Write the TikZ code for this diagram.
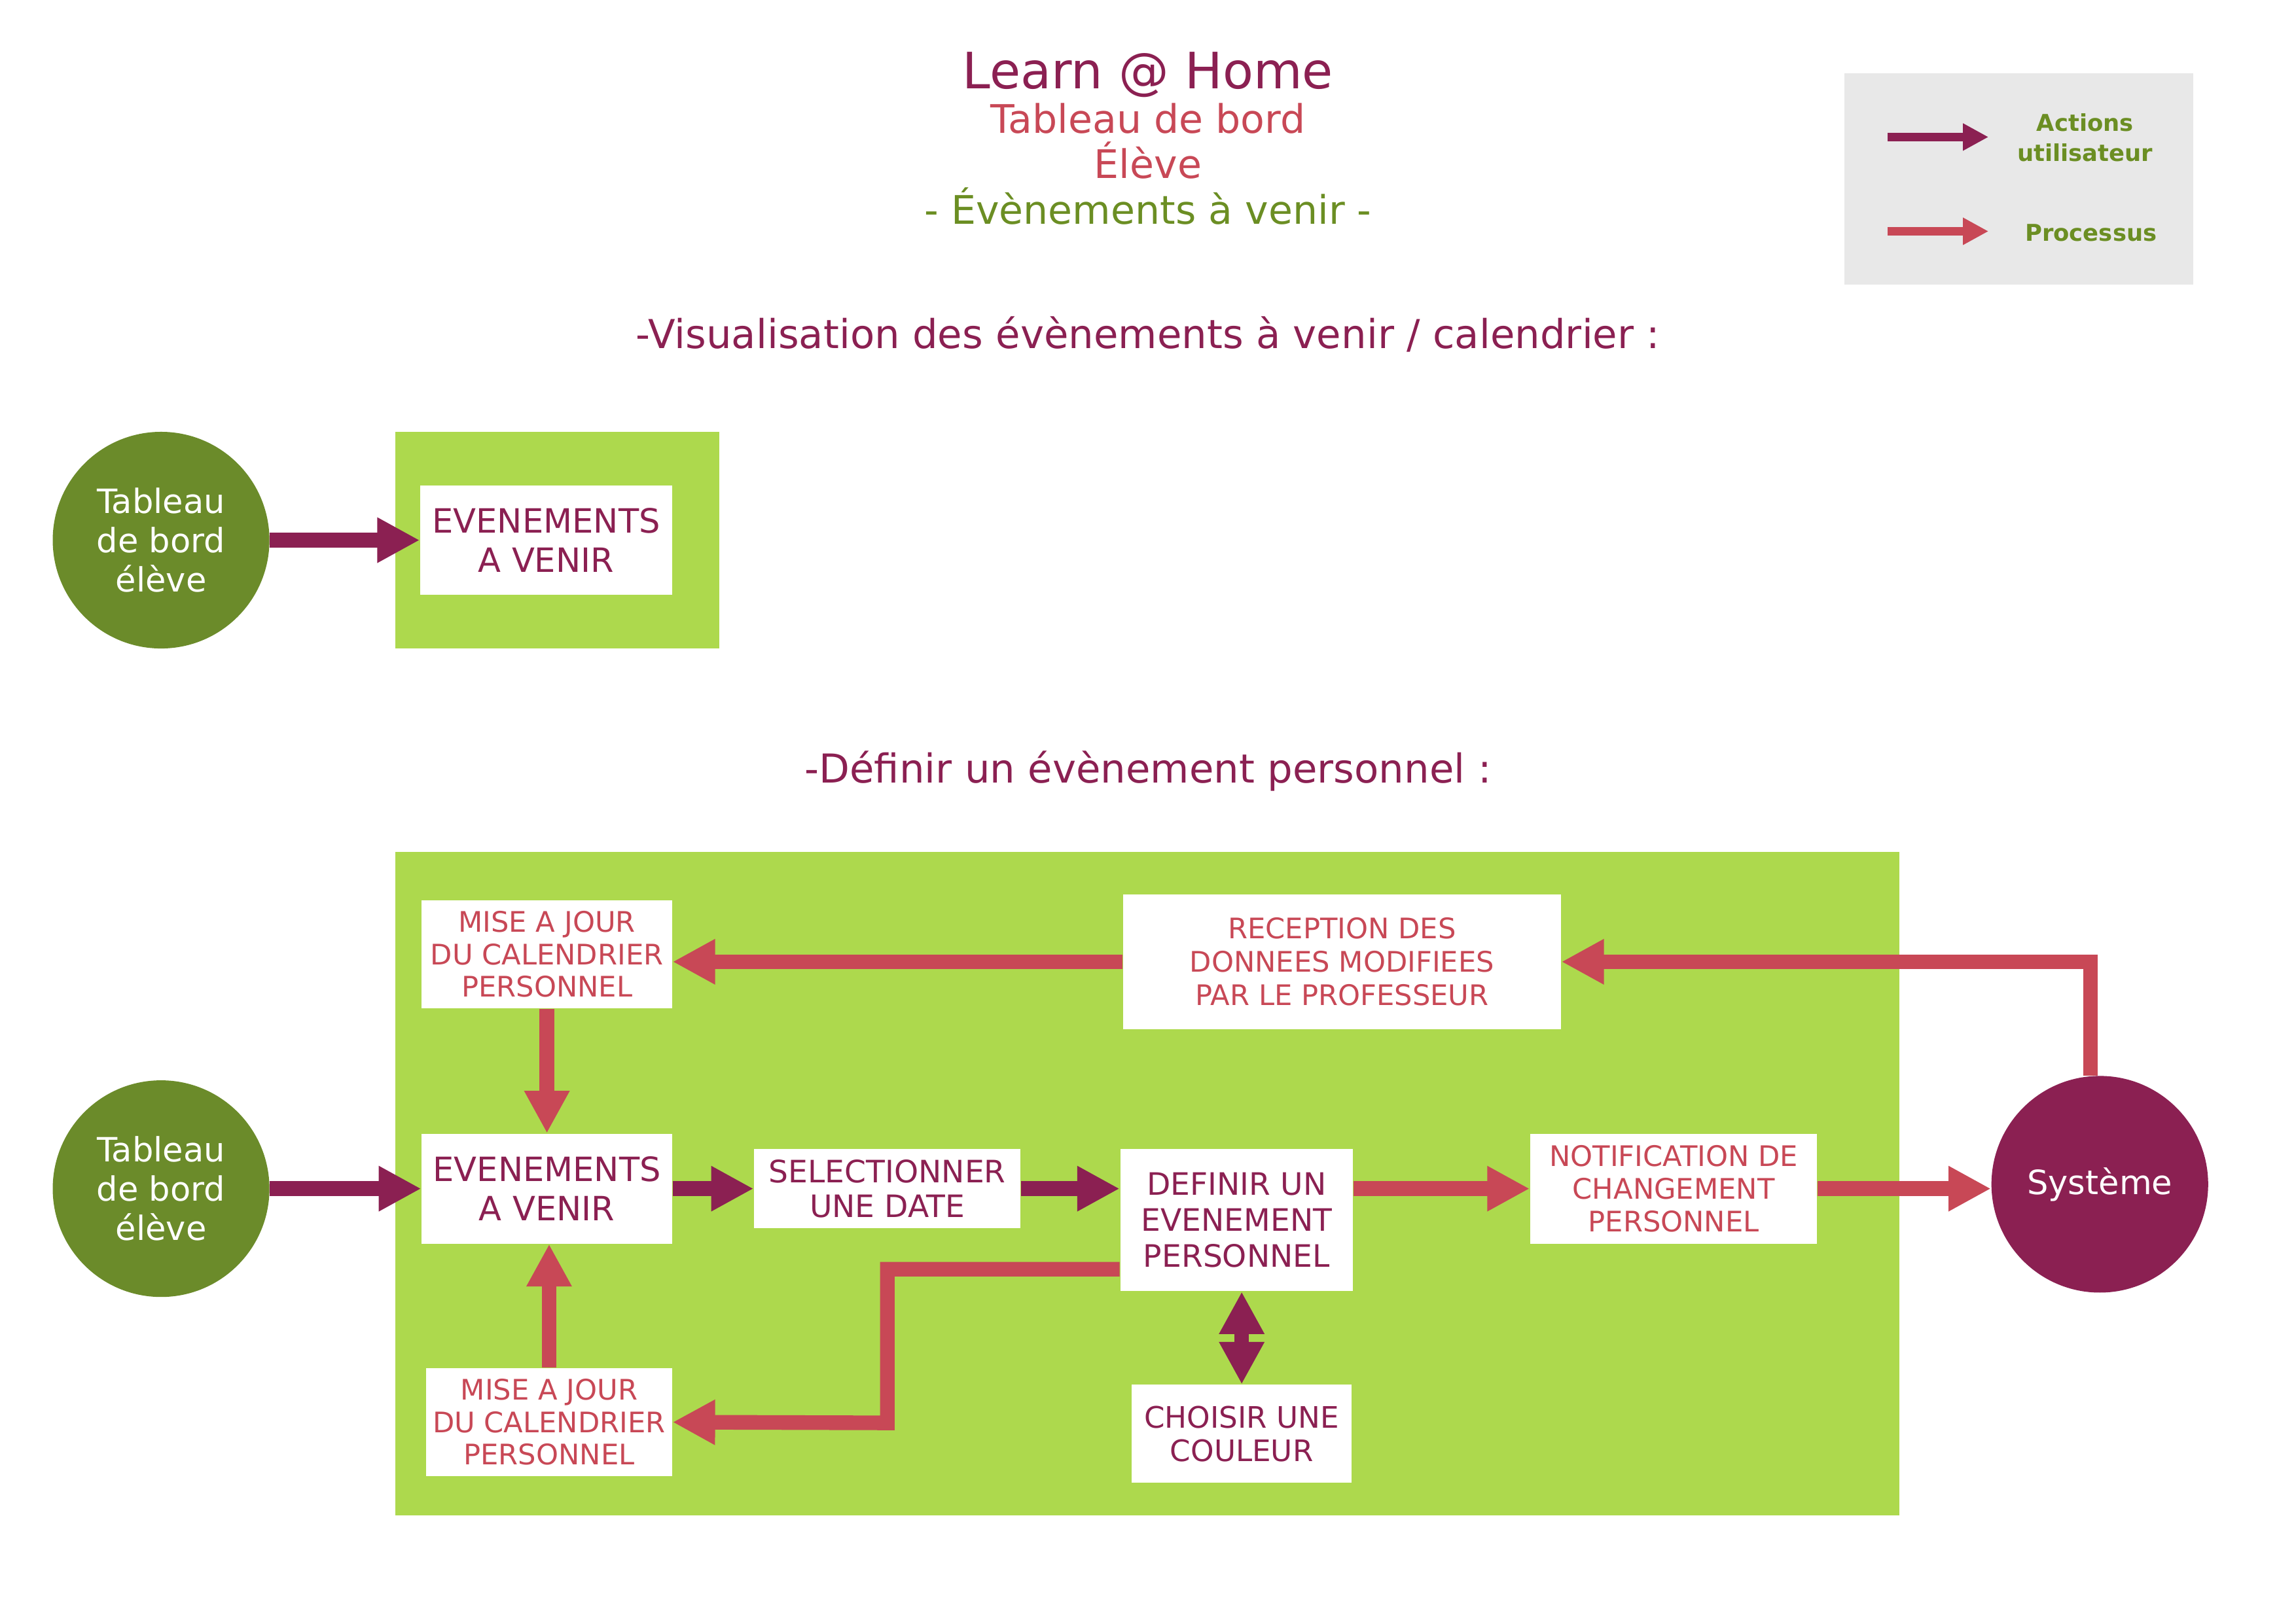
\documentclass[tikz,border=0pt]{standalone}
\usepackage{fontspec}
\setmainfont{DejaVu Sans}
\usetikzlibrary{arrows.meta}

\definecolor{violetlh}{HTML}{8B2052}
\definecolor{rougelh}{HTML}{C84856}
\definecolor{vertfonce}{HTML}{6B8B2A}
\definecolor{vertclair}{HTML}{ADD94D}
\definecolor{verttexte}{HTML}{6B8E23}
\definecolor{grislegende}{HTML}{E8E8E8}

\tikzset{
  action/.style={fill=white,text=violetlh,align=center,inner sep=0pt},
  processus/.style={fill=white,text=rougelh,align=center,inner sep=0pt,font=\fontsize{11}{12.6}\selectfont},
  acteur/.style={circle,minimum size=29.6mm,inner sep=0pt,text=white,align=center,font=\fontsize{13}{15.3}\selectfont},
  fluser/.style={draw=violetlh,line width=2mm,-{Triangle[length=5.8mm,width=5.8mm]}},
  flproc/.style={draw=rougelh,line width=2mm,-{Triangle[length=5.8mm,width=5.8mm]}},
  fldouble/.style={draw=violetlh,line width=2mm,{Triangle[length=5.8mm,width=5.8mm]}-{Triangle[length=5.8mm,width=5.8mm]}},
  titre/.style={anchor=base,font=\fontsize{15.3}{18}\selectfont},
}

\begin{document}
\begin{tikzpicture}[x=0.2mm,y=-0.2mm]
    \useasboundingbox (0,0) rectangle (1568,1109);
    % Titre
    \node[titre,text=violetlh,font=\fontsize{19.5}{23}\selectfont] (titre) at (784,60.7) {Learn @ Home};
    \node[titre,text=rougelh] (tableau) at (784,91) {Tableau de bord};
    \node[titre,text=rougelh] (eleve) at (784,122) {Élève};
    \node[titre,text=verttexte] (page) at (784,153) {- Évènements à venir -};
    % Legende
    \fill[grislegende] (1259.6,50) rectangle (1498,194.5);
    \coordinate (la1) at (1289,93.6);
    \coordinate (la2) at (1358,93.6);
    \coordinate (lp1) at (1289,158);
    \coordinate (lp2) at (1358,158);
    \draw[violetlh,line width=1.2mm,-{Triangle[length=3.5mm,width=3.5mm]}] (la1) -- (la2);
    \draw[rougelh,line width=1.2mm,-{Triangle[length=3.5mm,width=3.5mm]}] (lp1) -- (lp2);
    \node[text=verttexte,align=center,font=\bfseries\fontsize{9}{11.9}\selectfont] (lact) at (1424,94) {Actions\\utilisateur};
    \node[text=verttexte,font=\bfseries\fontsize{9}{11.9}\selectfont] (lproc) at (1428,159) {Processus};

    % Visualisation
    \node[titre,text=violetlh,font=\fontsize{15.5}{18}\selectfont] (sec1) at (784,238) {-Visualisation des évènements à venir / calendrier :};
    \fill[vertclair] (270,295) rectangle (491,443);
    \node[acteur,fill=vertfonce] (tdb1) at (110,369) {Tableau\\de bord\\élève};
    \node[action,minimum width=34.4mm,minimum height=15mm,font=\fontsize{13}{15.3}\selectfont] (evt1) at (373,369) {EVENEMENTS\\A VENIR};
    \draw[fluser] (tdb1.east) -- (evt1.west);

    % Definir un evenement
    \node[titre,text=violetlh,font=\fontsize{15.5}{18}\selectfont] (sec2) at (784,534.6) {-Définir un évènement personnel :};
    \fill[vertclair] (270,582) rectangle (1297,1035);
    \node[acteur,fill=vertfonce] (tdb2) at (110,812) {Tableau\\de bord\\élève};
    \node[acteur,fill=violetlh] (sys) at (1434,809) {Système};
    \node[processus,minimum width=34.2mm,minimum height=14.8mm] (majh) at (373.5,652) {MISE A JOUR\\DU CALENDRIER\\PERSONNEL};
    \node[processus,minimum width=59.8mm,minimum height=18.4mm,font=\fontsize{11}{13}\selectfont] (recep) at (916.5,657) {RECEPTION DES\\DONNEES MODIFIEES\\PAR LE PROFESSEUR};
    \node[action,minimum width=34.2mm,minimum height=15mm,font=\fontsize{13}{15.3}\selectfont] (evt2) at (373.5,812) {EVENEMENTS\\A VENIR};
    \node[action,minimum width=36.4mm,minimum height=10.8mm,font=\fontsize{12}{13.6}\selectfont] (date) at (606,812) {SELECTIONNER\\UNE DATE};
    \node[action,minimum width=31.8mm,minimum height=19.4mm,font=\fontsize{12}{13.9}\selectfont] (definir) at (844.5,833.5) {DEFINIR UN\\EVENEMENT\\PERSONNEL};
    \node[processus,minimum width=39.2mm,minimum height=15mm,font=\fontsize{11}{12.8}\selectfont] (notif) at (1143,812) {NOTIFICATION DE\\CHANGEMENT\\PERSONNEL};
    \node[action,minimum width=30mm,minimum height=13.4mm,font=\fontsize{11.5}{13}\selectfont] (couleur) at (848,979.5) {CHOISIR UNE\\COULEUR};
    \node[processus,minimum width=33.6mm,minimum height=14.8mm] (majb) at (375,971.5) {MISE A JOUR\\DU CALENDRIER\\PERSONNEL};
    \coordinate (coude) at (606,972);
    % Actions utilisateur
    \draw[fluser] (tdb2.east) -- (evt2.west);
    \draw[fluser] (evt2.east) -- (date.west);
    \draw[fluser] (date.east) -- (date.east -| definir.west);
    \draw[fldouble] (definir.south -| couleur.north) -- (couleur.north);
    % Processus
    \draw[flproc] (definir.east |- notif.west) -- (notif.west);
    \draw[flproc] (notif.east) -- (notif.east -| sys.west);
    \draw[flproc] (sys.95) |- (recep.east);
    \draw[flproc] (recep.west) -- (recep.west -| majh.east);
    \draw[flproc] (majh.south) -- (evt2.north);
    \draw[flproc] ([yshift=-6.7mm]definir.west) -| (coude) -- (majb.east);
    \draw[flproc] (majb.north) -- (majb.north |- evt2.south);
\end{tikzpicture}
\end{document}
